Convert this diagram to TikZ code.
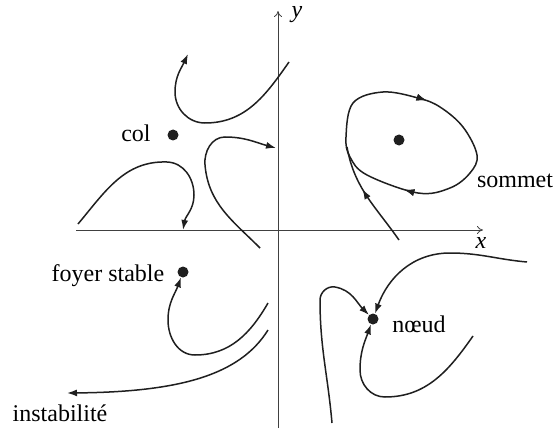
\documentclass[tikz,border=0pt]{standalone}
\usepackage{fontspec}
\setmainfont{Liberation Serif}
\usetikzlibrary{arrows.meta,decorations.markings}
\begin{document}
\begin{tikzpicture}[x=1pt,y=1pt,
  axis/.style={line width=0.8pt,draw=black!75,-{To[length=6pt,width=8pt]}},
  traj/.style={line width=1.5pt,draw=black!88},
  tip/.style={-{Latex[length=10pt,width=7pt]}},
  pt/.style={circle,fill=black!88,inner sep=0pt,minimum size=11pt},
  lab/.style={font=\fontsize{24}{28}\selectfont,inner sep=0pt},
  midarrow/.style={postaction={decorate},decoration={markings,mark=at position #1 with {\arrow{Latex[length=10pt,width=7pt]}}}}]
\useasboundingbox (0,0) rectangle (557,432);
% axes
\coordinate (xs) at (76,202);
\coordinate (xe) at (483,202);
\coordinate (ys) at (278,4);
\coordinate (ye) at (278,421);
\draw[axis] (xs) -- (xe);
\draw[axis] (ys) -- (ye);
\node[lab,font=\fontsize{24}{28}\selectfont\itshape] (xl) at (481,189) {x};
\node[lab,font=\fontsize{24}{28}\selectfont\itshape] (yl) at (297,417) {y};
% points
\node[pt] (col) at (173,297) {};
\node[pt] (som) at (399,292) {};
\node[pt] (foy) at (183,160) {};
\node[pt] (noe) at (373,113) {};
\node[lab] (colt) at (136,299) {col};
\node[lab] (somt) at (515,251) {sommet};
\node[lab] (foyt) at (108,156) {foyer stable};
\node[lab] (noet) at (419,108) {nœud};
\node[lab] (inst) at (60,19) {instabilité};
% col
\draw[traj,tip] (289,370) to[out=235,in=0] (205,309) to[out=180,in=-90] (175,340) to[out=90,in=245] (188,378);
\draw[traj,tip] (260,184) to[out=135,in=-85] (205,267) to[out=95,in=180] (225,295) to[out=0,in=165] (276,284);
\draw[traj,tip] (78,208) to[out=50,in=178] (167,270) to[out=-2,in=90] (194,237) to[out=-90,in=80] (183,202);
% sommet
\draw[traj,midarrow=0.21,midarrow=0.67] plot[smooth cycle,tension=0.6] coordinates {(346,295) (353,329) (383,340) (418,334) (440,325) (463,305) (477,277) (470,259) (450,244) (418,239) (367,257) (350,275)};
\draw[traj,midarrow=0.58] (399,192) to[out=125,in=-80] (347,285);
% foyer
\draw[traj,tip] (268,129) to[out=240,in=0] (195,77) to[out=180,in=-90] (168,112) to[out=90,in=250] (foy);
\draw[traj,tip] (268,102) .. controls (240,57) and (180,40) .. (67,39);
% noeud
\draw[traj,tip] (527,170) to[out=175,in=0] (450,179) to[out=180,in=70] (noe);
\draw[traj,tip] (332,9) to[out=95,in=-90] (320,132) to[out=90,in=170] (335,145) to[out=-10,in=135] (noe);
\draw[traj,tip] (473,96) to[out=235,in=0] (385,35) to[out=180,in=-90] (360,62) to[out=90,in=250] (noe);
\end{tikzpicture}
\end{document}
